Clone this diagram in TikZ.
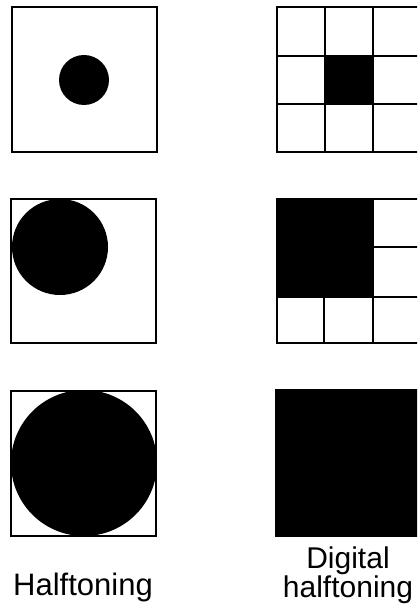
\documentclass[tikz,border=0pt]{standalone}
\usepackage{fontspec}
\setmainfont{Liberation Sans}
\begin{document}
\begin{tikzpicture}[x=1pt,y=-1pt,
  frame/.style={draw=black,line width=2pt},
  dot/.style={fill=black},
  lbl/.style={font=\fontsize{31}{27}\selectfont,inner sep=0pt,anchor=base}]
\useasboundingbox (0,0) rectangle (417,612);
\clip (0,0) rectangle (417,612);
% Row 1
\draw[frame] (12,7) rectangle (157,152);
\fill[dot] (84,80) circle (25);
\fill[dot] (325,56) rectangle (373,104);
\draw[frame] (277,7) rectangle (421,152);
\draw[frame] (325,7) -- (325,152) (373,7) -- (373,152) (277,56) -- (421,56) (277,104) -- (421,104);
% Row 2
\draw[frame] (11,199) rectangle (156,343);
\fill[dot] (60,247) circle (48);
\draw[frame] (277,199) rectangle (421,343);
\fill[dot] (277,199) rectangle (373,297);
\draw[frame] (277,297) -- (421,297) (373,199) -- (373,343) (324,297) -- (324,343) (373,247) -- (421,247);
% Row 3
\draw[frame] (11,391) rectangle (156,536);
\fill[dot] (84,463) circle (73);
\fill[dot] (275,389) rectangle (421,537);
% Labels
\node[lbl] (ht) at (83,595) {Halftoning};
\node[lbl,align=center,font=\fontsize{30}{27}\selectfont] (dh) at (348,597) {Digital\\halftoning};
\end{tikzpicture}
\end{document}
